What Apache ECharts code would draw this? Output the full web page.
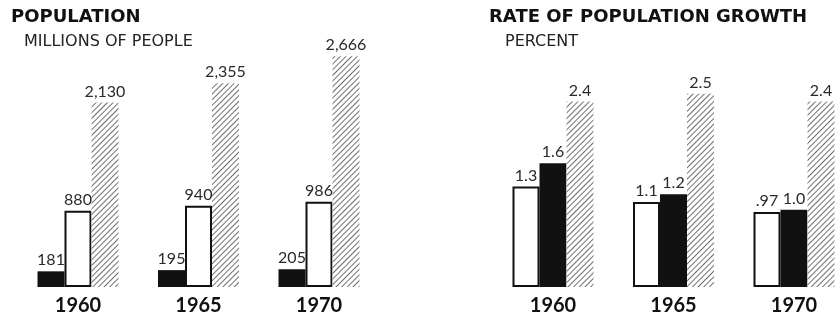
<!DOCTYPE html>
<html>
<head>
    <meta charset="utf-8">
    <title>Population and rate of growth</title>
    <script src="https://cdn.jsdelivr.net/npm/echarts@6/dist/echarts.min.js"></script>
    <style>
        html, body { margin: 0; padding: 0; background: #fff; }
        #main { width: 835px; height: 317px; }
    </style>
</head>
<body>
    <div id="main"></div>
    <script>
        const chart = echarts.init(document.getElementById('main'), null, { renderer: 'canvas' });

        // data
        const years = ['1960', '1965', '1970'];
        const popBlack = [181, 195, 205];
        const popWhite = [880, 940, 986];
        const popHatched = [2130, 2355, 2666];
        const rateWhite = [1.3, 1.1, 0.97];
        const rateBlack = [1.6, 1.2, 1.0];
        const rateHatched = [2.4, 2.5, 2.4];

        const FONT = 'Lato, "DejaVu Sans", sans-serif';
        const HEAD_FONT = '"DejaVu Sans", sans-serif';
        const BAR_W = 27;

        // diagonal hatching like the printed original
        const hatch = {
            color: '#fff',
            decal: {
                symbol: 'rect',
                symbolSize: 1,
                dashArrayX: [1, 0],
                dashArrayY: [0.7, 2.3],
                rotation: -Math.PI / 4,
                color: '#707070'
            }
        };

        const valueLabel = fmt => ({
            show: true,
            position: 'top',
            distance: 3,
            color: '#2a2a2a',
            fontFamily: FONT,
            fontSize: 16,
            formatter: p => fmt(p.value)
        });

        const popFmt = v => v.toLocaleString('en-US');
        const rateFmt = v => v < 1 ? String(v).replace(/^0/, '') : v.toFixed(1);

        function bar(data, idx, style, fmt) {
            return {
                type: 'bar',
                xAxisIndex: idx,
                yAxisIndex: idx,
                data: data,
                barWidth: BAR_W,
                barGap: '0%',
                clip: false,
                itemStyle: style,
                label: valueLabel(fmt),
                silent: true
            };
        }

        const blackStyle = { color: '#111' };
        const whiteStyle = { color: '#fff', borderColor: '#111', borderWidth: 2 };

        // both panels put the year groups on points 121px apart
        const xAxisBase = idx => ({
            type: 'category',
            gridIndex: idx,
            data: years,
            boundaryGap: false,
            axisLine: { show: false },
            axisTick: { show: false },
            axisLabel: {
                margin: 9,
                color: '#111',
                fontFamily: FONT,
                fontWeight: 'bold',
                fontSize: 20
            }
        });

        const yAxisBase = (idx, max) => ({
            type: 'value',
            gridIndex: idx,
            min: 0,
            max: max,
            show: false,
            splitLine: { show: false }
        });

        const titleStyle = { color: '#111', fontFamily: HEAD_FONT, fontWeight: 'bold', fontSize: 18 };
        const subStyle = { color: '#222', fontFamily: HEAD_FONT, fontWeight: 'normal', fontSize: 16 };

        chart.setOption({
            animation: false,
            backgroundColor: '#fff',
            title: [
                { text: 'POPULATION', left: 6, top: 3, textStyle: titleStyle },
                { text: 'MILLIONS OF PEOPLE', left: 19, top: 29, textStyle: subStyle },
                { text: 'RATE OF POPULATION GROWTH', left: 484, top: 3, textStyle: titleStyle },
                { text: 'PERCENT', left: 500, top: 29, textStyle: subStyle }
            ],
            grid: [
                { left: 78, top: 55, width: 241, height: 232 },
                { left: 553, top: 55, width: 241, height: 232 }
            ],
            xAxis: [xAxisBase(0), xAxisBase(1)],
            yAxis: [yAxisBase(0, 2680), yAxisBase(1, 3)],
            series: [
                bar(popBlack, 0, blackStyle, popFmt),
                bar(popWhite, 0, whiteStyle, popFmt),
                bar(popHatched, 0, hatch, popFmt),
                bar(rateWhite, 1, whiteStyle, rateFmt),
                bar(rateBlack, 1, blackStyle, rateFmt),
                bar(rateHatched, 1, hatch, rateFmt)
            ]
        });
    </script>
</body>
</html>
